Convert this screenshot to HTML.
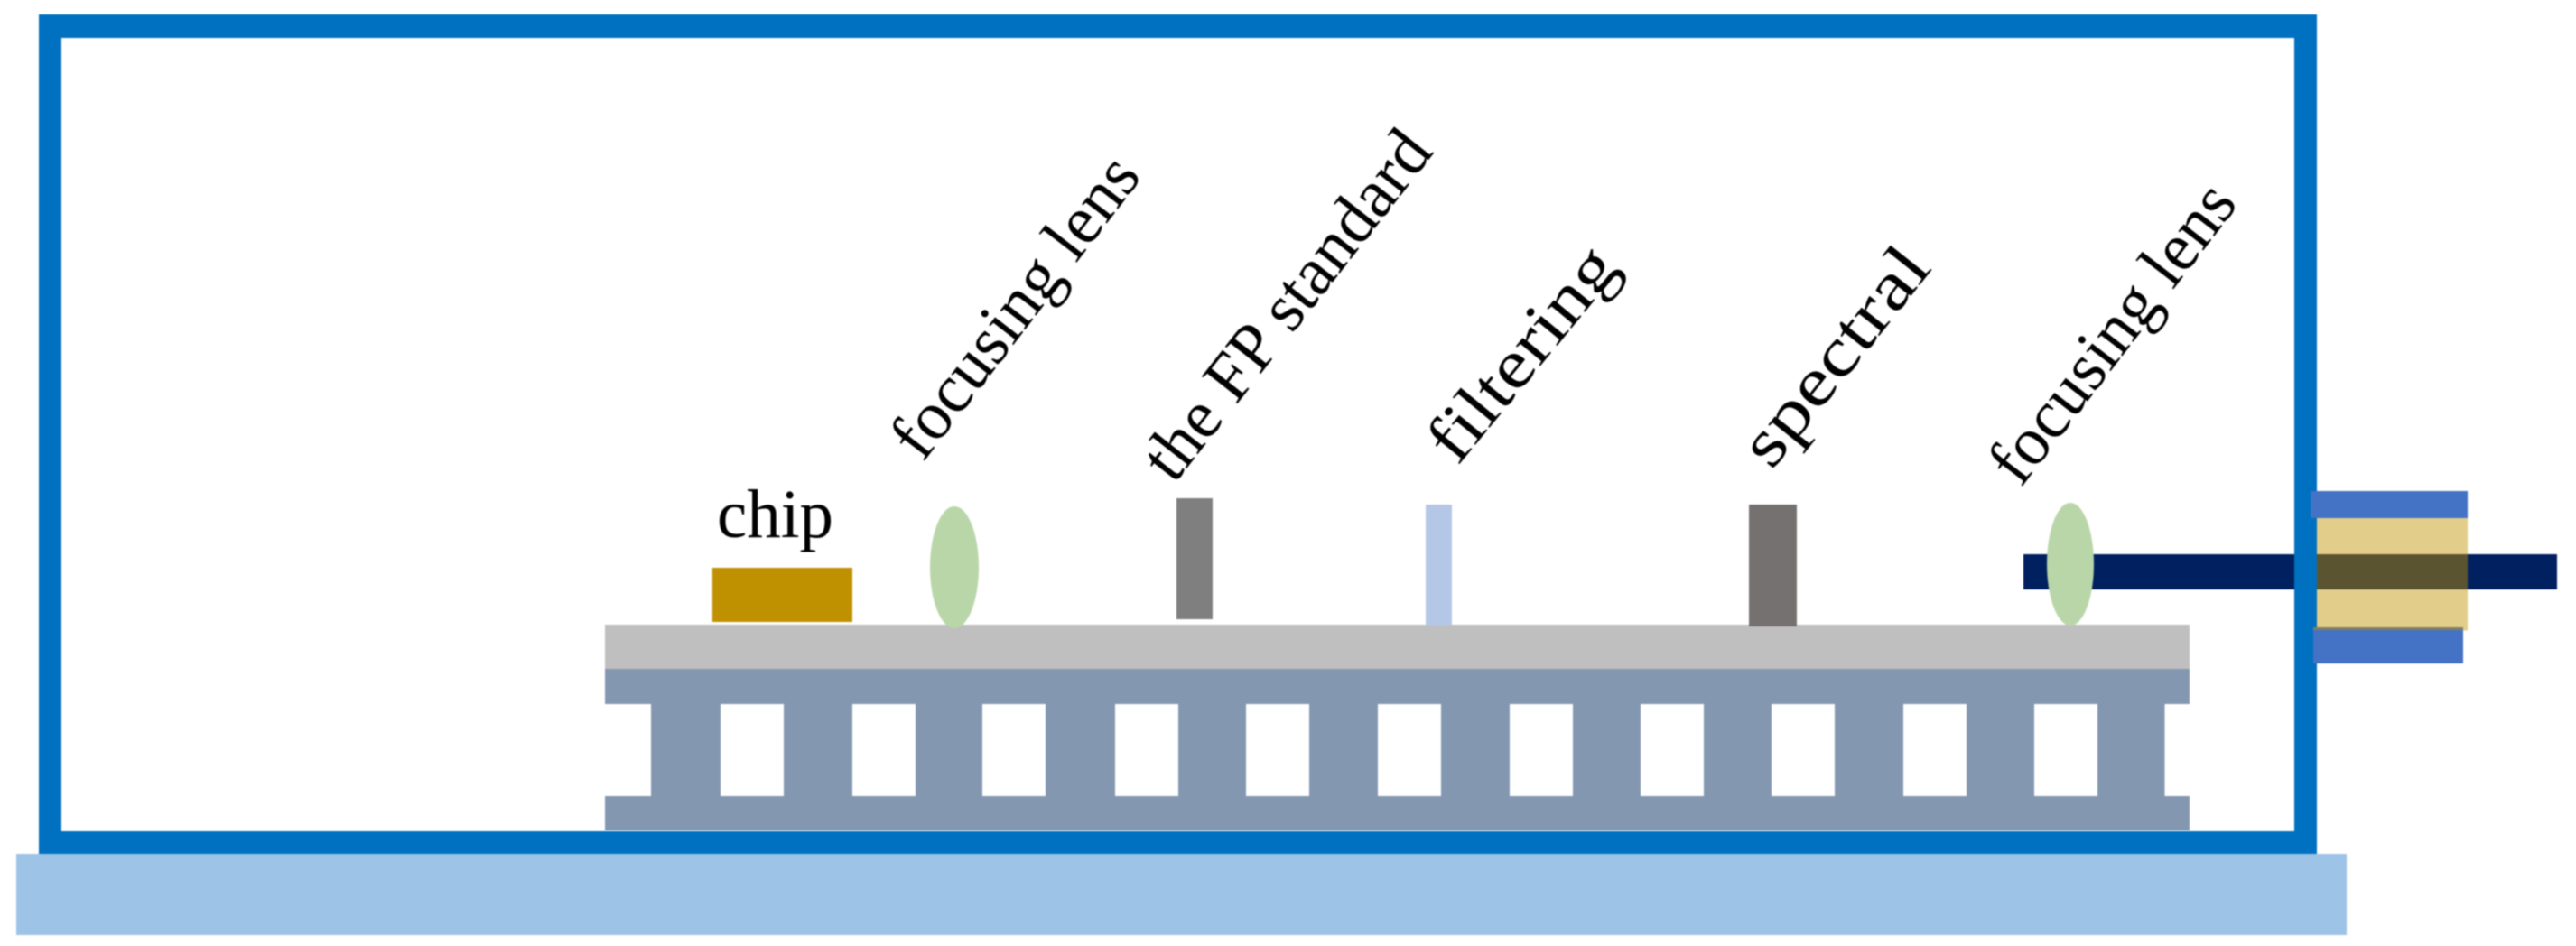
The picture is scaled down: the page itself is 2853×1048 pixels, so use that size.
<!DOCTYPE html>
<html><head><meta charset="utf-8"><style>
html,body{margin:0;padding:0;background:#fff}
svg{display:block}
text{font-family:"Liberation Serif",serif;font-size:76px;fill:#000}
</style></head><body>
<svg width="2853" height="1048" viewBox="0 0 2853 1048" xmlns="http://www.w3.org/2000/svg">
<rect width="2853" height="1048" fill="#fff"/>
<g style="filter:blur(0.9px)">
<rect x="18" y="946" width="2581" height="90" fill="#9dc3e6"/>
<path fill-rule="evenodd" fill="#8497b0" d="M670 741H2425V780H2397.5V882H2425V920H670V882H721V780H670Z"/>
<g fill="#fff">
<rect x="798" y="780" width="70" height="102"/><rect x="944" y="780" width="70" height="102"/><rect x="1088" y="780" width="70" height="102"/><rect x="1235" y="780" width="70" height="102"/><rect x="1380" y="780" width="70" height="102"/><rect x="1526" y="780" width="70" height="102"/><rect x="1672" y="780" width="70" height="102"/><rect x="1817" y="780" width="70" height="102"/><rect x="1962" y="780" width="70" height="102"/><rect x="2108" y="780" width="70" height="102"/><rect x="2253" y="780" width="70" height="102"/>
</g>
<rect x="670" y="692" width="1755" height="49" fill="#bfbfbf"/>
<rect x="789" y="629" width="155" height="60" fill="#bf9000"/>
<ellipse cx="1057" cy="628.5" rx="27" ry="67.5" fill="#b9d6a9"/>
<rect x="1303" y="552" width="40" height="134" fill="#7f7f7f"/>
<rect x="1579" y="559" width="29" height="134" fill="#b4c7e7"/>
<rect x="1937" y="559" width="53" height="135" fill="#767171"/>
<rect x="2241" y="614" width="591" height="39" fill="#002060"/>
<ellipse cx="2293" cy="625" rx="26" ry="68" fill="#b9d6a9"/>
<rect x="2566" y="574" width="167" height="124.500" fill="#e2cd8b"/>
<rect x="2566" y="614" width="167" height="39" fill="#5a5530"/>
<path fill="#0070c0" fill-rule="evenodd" d="M43 16H2566V946H43ZM68 42V921H2541V42Z"/>
<rect x="2559" y="544" width="174" height="30" fill="#4472c4"/>
<rect x="2562" y="695" width="166" height="3.500" fill="#7f7f60"/>
<rect x="2562" y="698" width="166" height="37" fill="#4472c4"/>
<text x="794" y="595" textLength="129" lengthAdjust="spacingAndGlyphs">chip</text>
<text transform="translate(1022 513) rotate(-52.500)" textLength="400" lengthAdjust="spacingAndGlyphs">focusing lens</text>
<text transform="translate(1300 537) rotate(-51.900)" textLength="468" lengthAdjust="spacingAndGlyphs">the FP standard</text>
<text transform="translate(1614 517) rotate(-50.500)" textLength="285" lengthAdjust="spacingAndGlyphs">filtering</text>
<text transform="translate(1962 522) rotate(-51.500)" textLength="287" lengthAdjust="spacingAndGlyphs">spectral</text>
<text transform="translate(2238 541) rotate(-52.500)" textLength="397" lengthAdjust="spacingAndGlyphs">focusing lens</text>
</g>
</svg>
</body></html>
